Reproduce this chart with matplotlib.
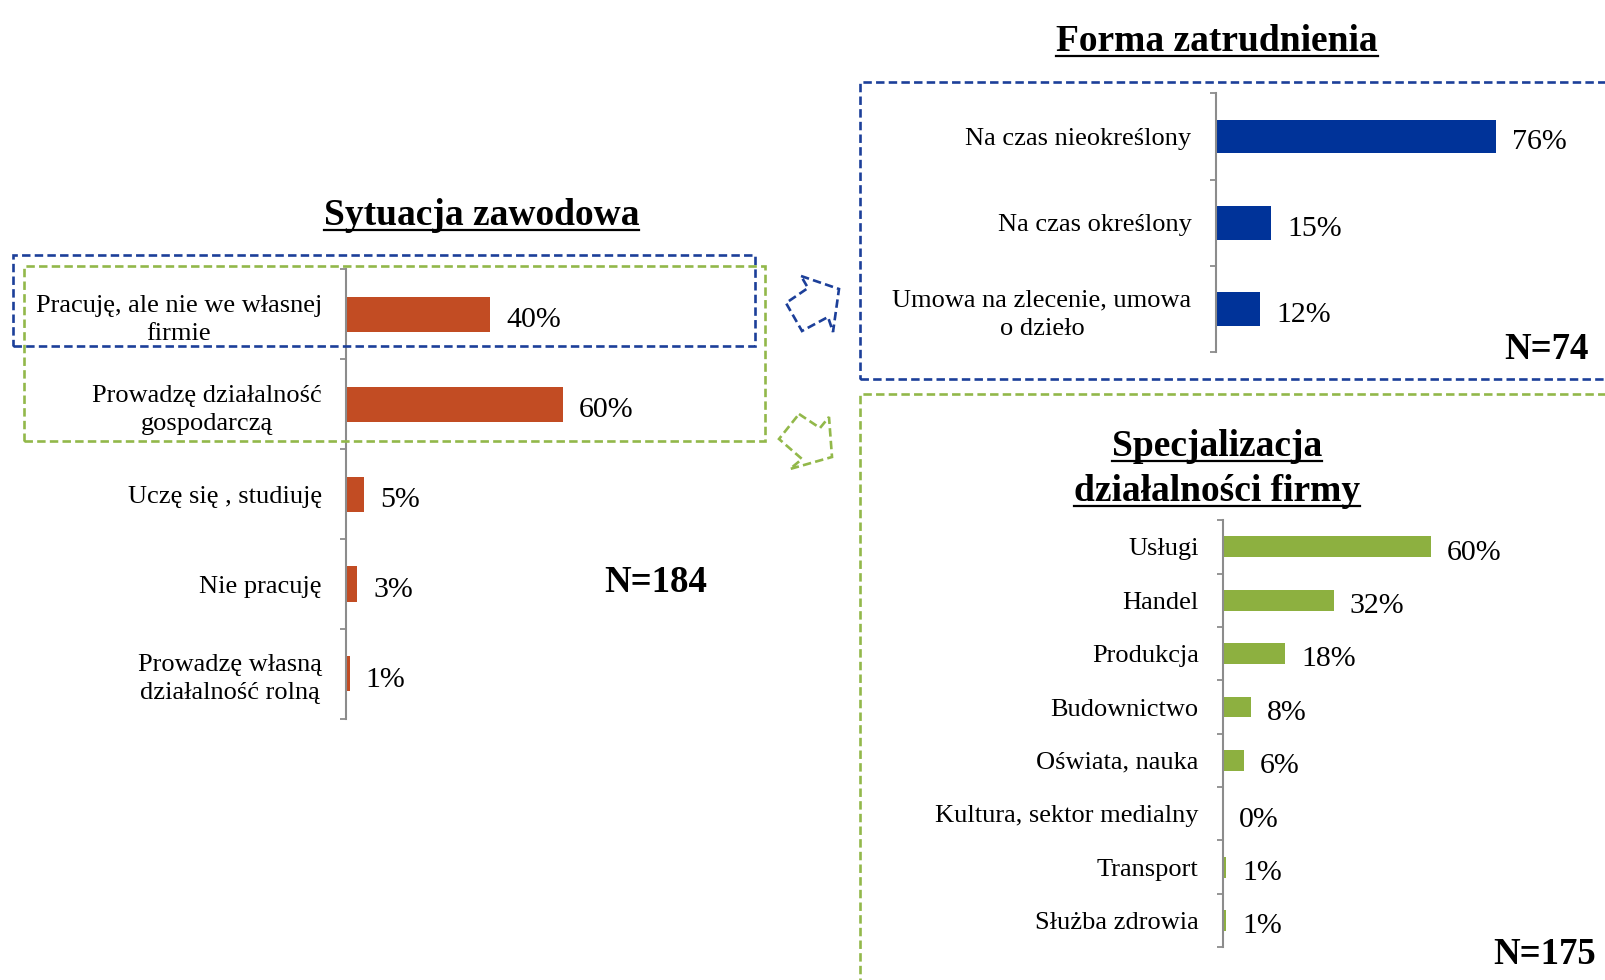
import matplotlib
matplotlib.use("Agg")
import matplotlib.pyplot as plt
import numpy as np
from matplotlib.patches import Rectangle, Polygon
from matplotlib.lines import Line2D

plt.rcParams['font.family'] = ['Liberation Serif', 'DejaVu Serif']

# data
sit_cats = ["Pracuję, ale nie we własnej\nfirmie", "Prowadzę działalność\ngospodarczą",
            "Uczę się , studiuję", "Nie pracuję", "Prowadzę własną\ndziałalność rolną"]
sit_vals = [40, 60, 5, 3, 1]

forma_cats = ["Na czas nieokreślony", "Na czas określony", "Umowa na zlecenie, umowa\no dzieło"]
forma_vals = [76, 15, 12]

spec_cats = ["Usługi", "Handel", "Produkcja", "Budownictwo", "Oświata, nauka",
             "Kultura, sektor medialny", "Transport", "Służba zdrowia"]
spec_vals = [60, 32, 18, 8, 6, 0, 1, 1]

ORANGE = "#C24C23"
BLUE_BAR = "#003399"
GREEN_BAR = "#8DB040"
BLUE_DASH = "#1C3F99"
GREEN_DASH = "#92B84A"

# layout helpers (reference pixel coords, 1568x957 view)
W, H = 1568, 957
def fx(x):
    return x / W
def fy(y):
    return 1 - y / H

fig = plt.figure(figsize=(16.06, 9.8), dpi=100)


def hbar(left, top, right, bottom, cats, vals, color):
    ax = fig.add_axes([fx(left), fy(bottom), (right - left) / W, (bottom - top) / H])
    n = len(cats)
    y = np.arange(n)
    ax.barh(y, vals, height=0.39, color=color)
    ax.set_xlim(0, 100)
    ax.set_ylim(n - 0.5, -0.5)
    for s in ['top', 'right', 'bottom']:
        ax.spines[s].set_visible(False)
    ax.spines['left'].set_color('#8C8C8C')
    ax.spines['left'].set_linewidth(1.5)
    ax.set_xticks([])
    ax.set_yticks(y)
    ax.set_yticklabels(cats, fontsize=19)
    for lab in ax.get_yticklabels():
        lab.set_multialignment('center')
        lab.set_linespacing(1.35)
    ax.set_yticks(np.arange(n + 1) - 0.5, minor=True)
    ax.tick_params(axis='y', which='major', length=0, pad=17.5)
    ax.tick_params(axis='y', which='minor', length=4.5, width=1.3, color='#8C8C8C')
    for i, v in enumerate(vals):
        ax.annotate(f"{v}%", (v, i), xytext=(11.5, -2), textcoords='offset points',
                    va='center_baseline', ha='left', fontsize=21.5)
    ax.patch.set_alpha(0)
    return ax


hbar(338, 263, 690, 702, sit_cats, sit_vals, ORANGE)
hbar(1187, 91, 1547, 344, forma_cats, forma_vals, BLUE_BAR)
hbar(1194, 508, 1532, 925, spec_cats, spec_vals, GREEN_BAR)

# titles
titles = []
titles.append((fig.text(fx(470), fy(220), "Sytuacja zawodowa", ha='center', va='baseline',
                        fontsize=27, fontweight='bold'), 225))
titles.append((fig.text(fx(1188), fy(50), "Forma zatrudnienia", ha='center', va='baseline',
                        fontsize=27, fontweight='bold'), 55))
titles.append((fig.text(fx(1188), fy(445), "Specjalizacja", ha='center', va='baseline',
                        fontsize=27, fontweight='bold'), 450))
titles.append((fig.text(fx(1188), fy(489), "działalności firmy", ha='center', va='baseline',
                        fontsize=27, fontweight='bold'), 494))

fig.text(fx(640), fy(569), "N=184", ha='center', va='center', fontsize=26.5, fontweight='bold')
fig.text(fx(1551), fy(341), "N=74", ha='right', va='center', fontsize=26.5, fontweight='bold')
fig.text(fx(1558), fy(932), "N=175", ha='right', va='center', fontsize=26.5, fontweight='bold')

fig.canvas.draw()
for t, yl in titles:
    bb = t.get_window_extent()
    x0, x1 = bb.x0 / fig.bbox.width, bb.x1 / fig.bbox.width
    fig.add_artist(Line2D([x0, x1], [fy(yl)] * 2, color='black', lw=1.6))

# dashed frames
dash = (0, (3.2, 1.6))
def frame(x0, y0, x1, y1, color):
    fig.add_artist(Rectangle((fx(x0), fy(y1)), (x1 - x0) / W, (y1 - y0) / H,
                             fill=False, edgecolor=color, lw=1.9, linestyle=dash))

frame(13, 249, 737, 338, BLUE_DASH)
frame(23, 260, 747, 431, GREEN_DASH)
frame(840, 80, 1600, 370, BLUE_DASH)
frame(840, 385, 1600, 1000, GREEN_DASH)

# arrows (full-size pixel coords)
def arrow(pts, color):
    pts = [(x / 1606, 1 - y / 980) for x, y in pts]
    fig.add_artist(Polygon(pts, closed=True, fill=False, edgecolor=color, lw=1.9,
                           linestyle=dash))

arrow([(801, 276), (839, 289), (833, 332), (828, 317), (802, 331), (786, 303), (808, 288)], BLUE_DASH)
arrow([(799, 414), (820, 428), (829, 417), (832, 457), (790, 469), (802, 459), (779, 439)], GREEN_DASH)

fig.savefig("out.png", dpi=100, facecolor='white')
